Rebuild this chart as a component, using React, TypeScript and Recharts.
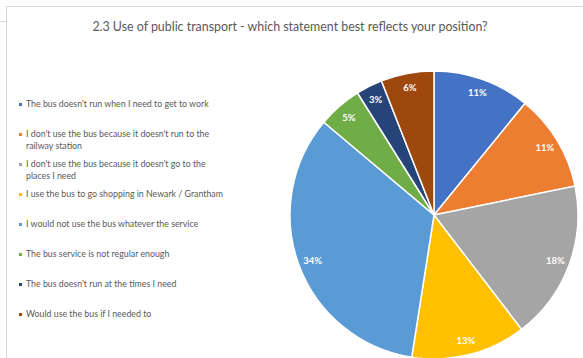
import React from "react";
import { PieChart, Pie, Cell } from "recharts";

const categories = [
  "The bus doesn't run when I need to get to work",
  "I don't use the bus because it doesn't run to the railway station",
  "I don't use the bus because it doesn't go to the places I need",
  "I use the bus to go shopping in Newark / Grantham",
  "I would not use the bus whatever the service",
  "The bus service is not regular enough",
  "The bus doesn't run at the times I need",
  "Would use the bus if I needed to",
];
const values = [11, 11, 18, 13, 34, 5, 3, 6];
const colors = ["#4472C4", "#ED7D31", "#A5A5A5", "#FFC000", "#5B9BD5", "#70AD47", "#264478", "#9E480E"];
const title = "2.3 Use of public transport - which statement best reflects your position?";

const data = categories.map((name, i) => ({ name, value: values[i] }));

const RADIAN = Math.PI / 180;
const FONT = "Lato, 'Noto Sans', sans-serif";

const renderLabel = (props: any) => {
  const { cx, cy, midAngle, outerRadius, value } = props;
  const r = outerRadius * 0.9;
  const x = cx + r * Math.cos(-midAngle * RADIAN);
  const y = cy + r * Math.sin(-midAngle * RADIAN);
  return (
    <text
      x={x}
      y={y}
      fill="#FFFFFF"
      textAnchor="middle"
      dominantBaseline="central"
      style={{ fontFamily: FONT, fontSize: 9.5, fontWeight: 700 }}
    >
      {value}%
    </text>
  );
};

const LegendBlock = () => (
  <div style={{ position: "absolute", left: 19, top: 98, fontFamily: FONT, fontSize: 8.8, color: "#595959" }}>
    {data.map((d, i) => (
      <div key={d.name} style={{ height: 30, display: "flex", alignItems: "flex-start" }}>
        <span
          style={{
            display: "inline-block",
            width: 3,
            height: 3,
            background: colors[i],
            marginTop: 5,
            marginRight: 4,
            flex: "0 0 auto",
          }}
        />
        <span style={{ width: 205, lineHeight: "12px", marginTop: 0 }}>{d.name}</span>
      </div>
    ))}
  </div>
);

export default function App() {
  return (
    <div style={{ position: "absolute", left: 0, top: 0, width: 583, height: 358, background: "#fff", overflow: "hidden" }}>
      <div style={{ position: "absolute", left: 6, top: 6, width: 600, height: 1, background: "#D9D9D9" }} />
      <div style={{ position: "absolute", left: 6, top: 6, width: 1, height: 360, background: "#D9D9D9" }} />
      <div style={{ position: "absolute", left: 0, top: 21, width: 6, height: 1, background: "#D9D9D9" }} />
      <div
        style={{
          position: "absolute",
          left: 0,
          top: 19,
          width: 580,
          textAlign: "center",
          fontFamily: FONT,
          fontSize: 12.4,
          color: "#595959",
          whiteSpace: "nowrap",
        }}
      >
        {title}
      </div>
      <LegendBlock />
      <div style={{ position: "absolute", left: 0, top: 0 }}>
        <PieChart width={583} height={358} margin={{ top: 0, right: 0, bottom: 0, left: 0 }}>
          <Pie
            data={data}
            dataKey="value"
            nameKey="name"
            cx={434}
            cy={215}
            outerRadius={144}
            startAngle={90}
            endAngle={-270}
            stroke="#FFFFFF"
            strokeWidth={1.5}
            label={renderLabel}
            labelLine={false}
            isAnimationActive={false}
          >
            {data.map((d, i) => (
              <Cell key={d.name} fill={colors[i]} />
            ))}
          </Pie>
        </PieChart>
      </div>
    </div>
  );
}
